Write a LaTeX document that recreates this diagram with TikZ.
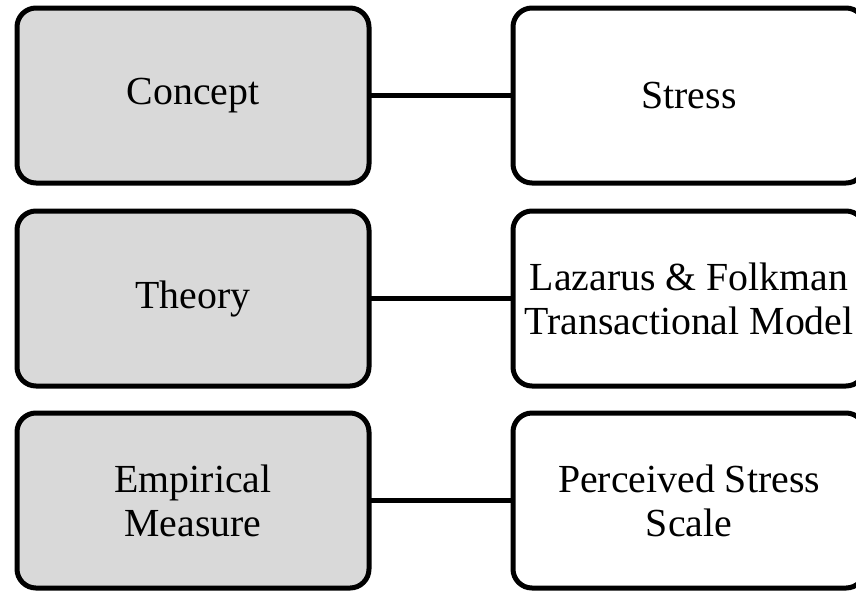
\documentclass[tikz,border=0pt]{standalone}
\usepackage{fontspec}
\setmainfont{Liberation Serif}
\definecolor{BoxGray}{RGB}{217, 217, 217}
\usepackage{tikz}
\usetikzlibrary{positioning}

\begin{document}
\begin{tikzpicture}[
      box/.style={draw, line width=5pt, rounded corners=19pt, outer sep=0pt,
        minimum width=352pt, minimum height=175pt, align=center,
        font=\fontsize{39.8}{44}\selectfont},
      leftBox/.style={box, fill=BoxGray},
      rightBox/.style={box, fill=white},
      link/.style={line width=4.5pt}
    ]
    \useasboundingbox (0pt,0pt) rectangle (856pt,-590pt);
    % left column
    \node[leftBox] (concept) at (193pt,-95.5pt) {Concept};
    \node[leftBox, below=28pt of concept] (theory) {Theory};
    \node[leftBox, below=27pt of theory] (measure) {Empirical\\Measure};
    % right column
    \node[rightBox, right=144pt of concept] (stress) {Stress};
    \node[rightBox, right=144pt of theory] (model)
         {Lazarus \& Folkman\\Transactional Model};
    \node[rightBox, right=144pt of measure] (pss)
         {Perceived Stress\\Scale};
    % connectors
    \draw[link] (concept) -- (stress);
    \draw[link] (theory) -- (model);
    \draw[link] (measure) -- (pss);
  \end{tikzpicture}
\end{document}
